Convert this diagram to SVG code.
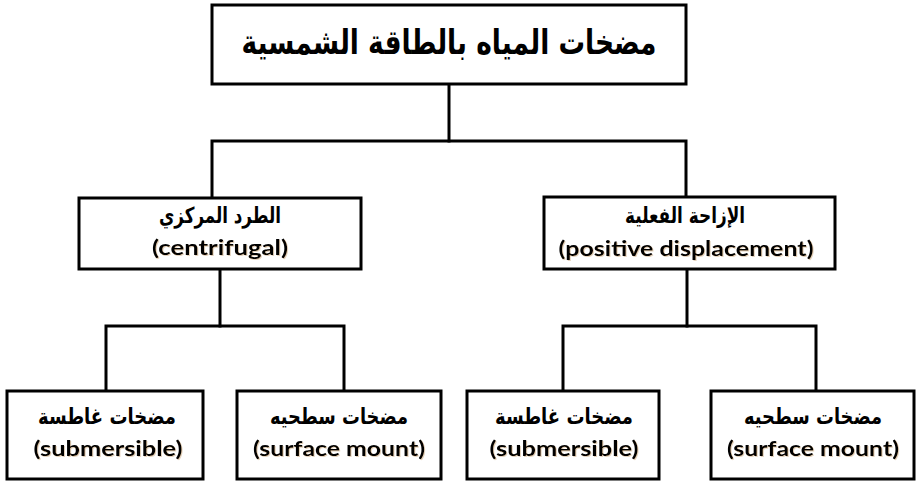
<svg xmlns="http://www.w3.org/2000/svg" width="917" height="481" viewBox="0 0 917 481">
  <style>
    .box { fill: #ffffff; stroke: #000000; stroke-width: 3; }
    .wire { fill: none; stroke: #000000; stroke-width: 3; stroke-linejoin: miter; stroke-linecap: square; }
    .ar { font-family: "DejaVu Sans", sans-serif; font-weight: bold; fill: #000000; text-anchor: middle; }
    .en { font-family: "Lato", "Open Sans", sans-serif; font-weight: bold; fill: #000000; text-anchor: middle; font-size: 21px; }
    .t1 { font-size: 34px; }
    .t2 { font-size: 22px; }
  </style>
  <defs>
    <filter id="soft" x="-5%" y="-20%" width="110%" height="140%">
      <feDropShadow dx="1" dy="1" stdDeviation="0.6" flood-color="#b08040" flood-opacity="0.35"/>
    </filter>
  </defs>

  <!-- connectors -->
  <g id="connectors">
    <path class="wire" d="M449 84 V141"/>
    <path class="wire" d="M212 197 V141 H686 V197"/>
    <path class="wire" d="M220 269 V326"/>
    <path class="wire" d="M106 391 V326 H344 V391"/>
    <path class="wire" d="M687 269 V326"/>
    <path class="wire" d="M563 391 V326 H816 V391"/>
  </g>

  <!-- root -->
  <g id="root">
    <rect class="box" x="212" y="5" width="474" height="79"/>
    <text class="ar t1" x="449" y="54" direction="rtl" textLength="415" lengthAdjust="spacingAndGlyphs">مضخات المياه بالطاقة الشمسية</text>
  </g>

  <!-- second level -->
  <g id="centrifugal">
    <rect class="box" x="79" y="198" width="282" height="71"/>
    <text class="ar t2" x="220" y="223" direction="rtl" textLength="122" lengthAdjust="spacingAndGlyphs">الطرد المركزي</text>
    <text class="en" x="220" y="255" filter="url(#soft)" textLength="136" lengthAdjust="spacingAndGlyphs">(centrifugal)</text>
  </g>
  <g id="positive-displacement">
    <rect class="box" x="544" y="197" width="291" height="72"/>
    <text class="ar t2" x="685" y="223" direction="rtl" textLength="120" lengthAdjust="spacingAndGlyphs">الإزاحة الفعلية</text>
    <text class="en" x="686" y="256" filter="url(#soft)" textLength="255" lengthAdjust="spacingAndGlyphs">(positive displacement)</text>
  </g>

  <!-- leaves -->
  <g id="centrifugal-submersible">
    <rect class="box" x="7" y="391" width="196" height="88"/>
    <text class="ar t2" x="107" y="424" direction="rtl" textLength="138" lengthAdjust="spacingAndGlyphs">مضخات غاطسة</text>
    <text class="en" x="108" y="456" filter="url(#soft)" textLength="149" lengthAdjust="spacingAndGlyphs">(submersible)</text>
  </g>
  <g id="centrifugal-surface">
    <rect class="box" x="237" y="391" width="204" height="88"/>
    <text class="ar t2" x="339" y="424" direction="rtl" textLength="138" lengthAdjust="spacingAndGlyphs">مضخات سطحيه</text>
    <text class="en" x="339" y="456" filter="url(#soft)" textLength="172" lengthAdjust="spacingAndGlyphs">(surface mount)</text>
  </g>
  <g id="displacement-submersible">
    <rect class="box" x="467" y="391" width="192" height="88"/>
    <text class="ar t2" x="564" y="424" direction="rtl" textLength="138" lengthAdjust="spacingAndGlyphs">مضخات غاطسة</text>
    <text class="en" x="564" y="456" filter="url(#soft)" textLength="149" lengthAdjust="spacingAndGlyphs">(submersible)</text>
  </g>
  <g id="displacement-surface">
    <rect class="box" x="711" y="391" width="203" height="88"/>
    <text class="ar t2" x="813" y="424" direction="rtl" textLength="138" lengthAdjust="spacingAndGlyphs">مضخات سطحيه</text>
    <text class="en" x="813" y="456" filter="url(#soft)" textLength="172" lengthAdjust="spacingAndGlyphs">(surface mount)</text>
  </g>
</svg>
